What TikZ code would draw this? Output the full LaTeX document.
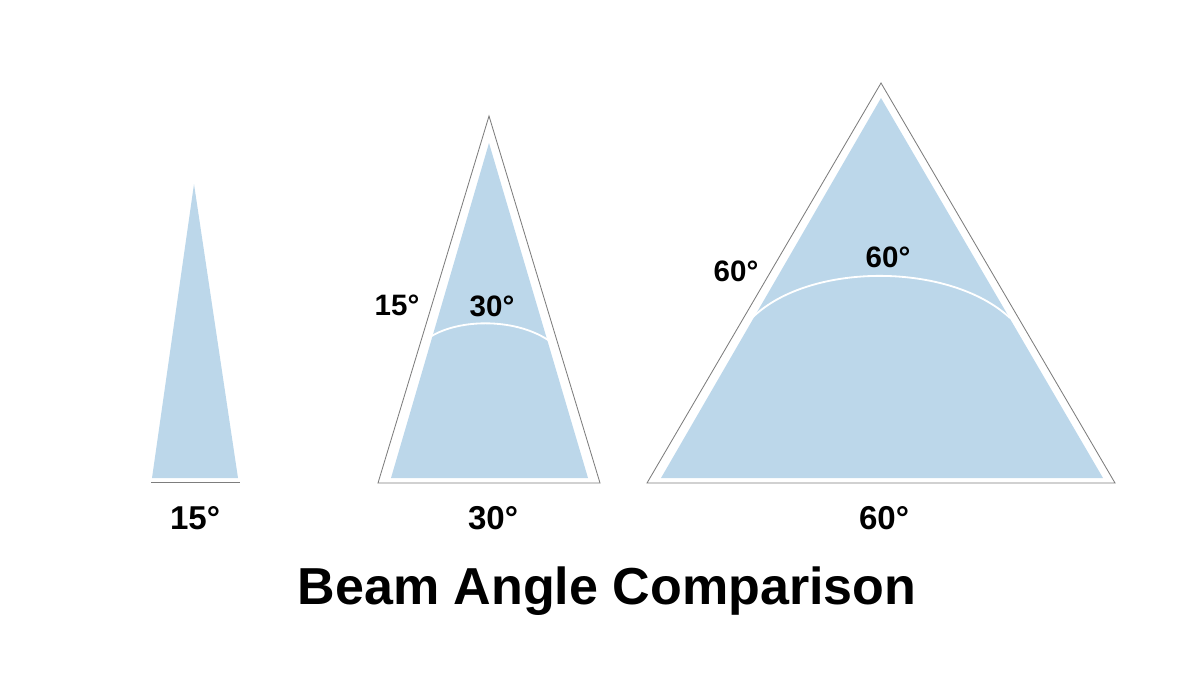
\documentclass[tikz,border=0pt]{standalone}
\usepackage{fontspec}
\setmainfont{Liberation Sans}
\usepackage{tikz}
\usetikzlibrary{positioning}
\definecolor{beamblue}{RGB}{188,215,234}
\definecolor{edgegray}{RGB}{125,125,125}
\tikzset{%
	beam/.style     = {fill=beamblue, draw=none}, % light cone
	outline/.style  = {draw=edgegray, line width=0.6pt, line join=miter}, % outer triangle
	sweep/.style    = {draw=white, line width=1.3pt}, % angle arc
	anglabel/.style = {font=\bfseries\fontsize{21}{23}\selectfont, inner sep=0pt}, % angle text
	caption/.style  = {font=\bfseries\fontsize{23.5}{25}\selectfont, inner sep=0pt}, % under text
	heading/.style  = {font=\bfseries\fontsize{37}{40}\selectfont, inner sep=0pt}, % title
}

\begin{document}
\begin{tikzpicture}[x=0.025cm,y=-0.025cm]
	\useasboundingbox (0,0) rectangle (1200,686);
	% narrow beam
	\fill [beam] (194,184) -- (152,478) -- (238,478) -- cycle;
	\draw [outline] (151,482.5) -- (240,482.5);
	% medium beam
	\draw [outline] (489,116) -- (378,483) -- (600,483) -- cycle;
	\fill [beam] (489,143) -- (391,478) -- (588,478) -- cycle;
	\draw [sweep] (430,337) .. controls (460,318) and (518,318) .. (551,342);
	% wide beam
	\draw [outline] (881,83) -- (647,483) -- (1115,483) -- cycle;
	\fill [beam] (881,98) -- (661,478) -- (1103,478) -- cycle;
	\draw [sweep] (753,317) .. controls (810,262) and (950,262) .. (1010,318);

	\node [anglabel] (a30side) at (397,305) {15°};
	\node [anglabel] (a30arc) at (492,306) {30°};
	\node [anglabel] (a60side) at (736,271) {60°};
	\node [anglabel] (a60arc) at (888,257) {60°};

	\node [caption] (c15) at (195,518) {15°};
	\node [caption] (c30) at (493,518) {30°};
	\node [caption] (c60) at (884,518) {60°};

	\node [heading] (title) at (607,591) {Beam Angle Comparison};
\end{tikzpicture}
\end{document}
